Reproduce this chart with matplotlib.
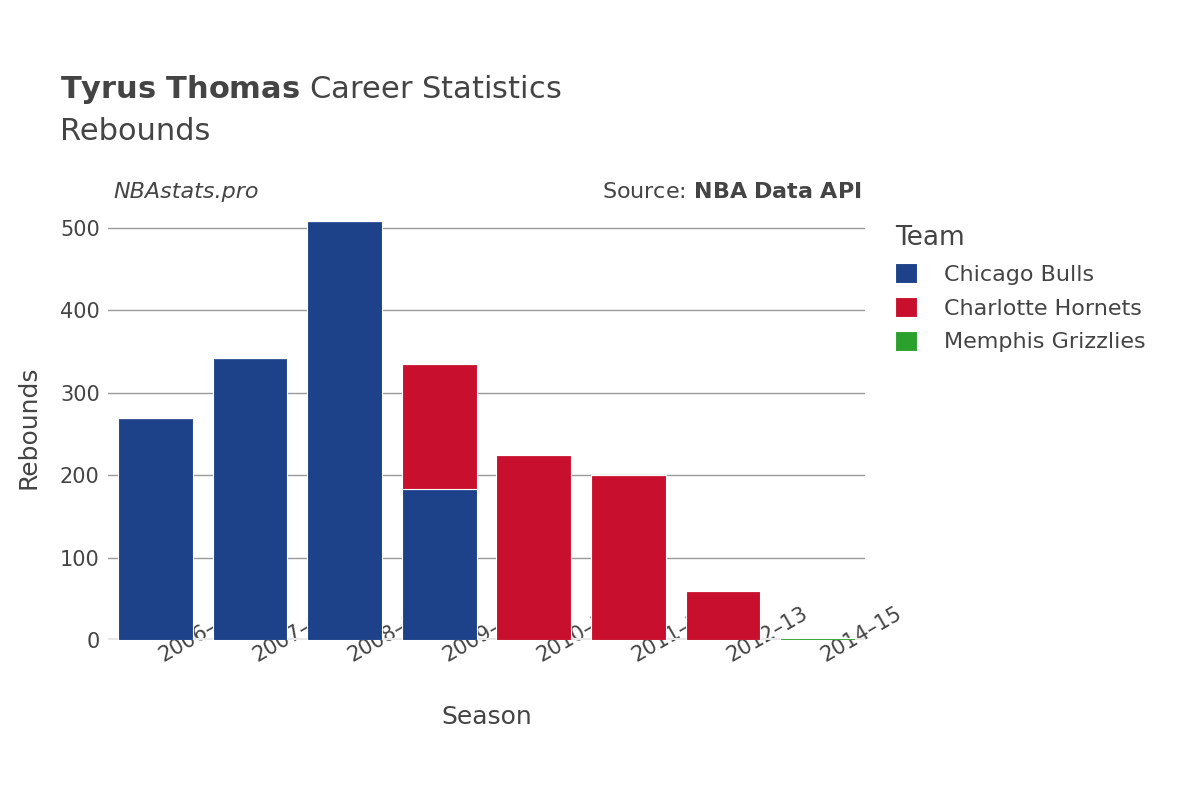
import matplotlib
matplotlib.use("Agg")
import matplotlib.pyplot as plt
import numpy as np

seasons = ["2006–07", "2007–08", "2008–09", "2009–10", "2010–11", "2011–12", "2012–13", "2014–15"]
teams = ["Chicago Bulls", "Charlotte Hornets", "Memphis Grizzlies"]
colors = ["#1d428a", "#c8102e", "#2ca02c"]
bulls = [269, 342, 508, 183, 0, 0, 0, 0]
hornets = [0, 0, 0, 152, 224, 200, 60, 0]
grizzlies = [0, 0, 0, 0, 0, 0, 0, 2]
series = [bulls, hornets, grizzlies]

fig = plt.figure(figsize=(12, 8), dpi=100)
ax = fig.add_axes([108/1200, 160/800, (865-108)/1200, 425/800])
x = np.arange(len(seasons))
bottom = np.zeros(len(seasons))
for vals, c, name in zip(series, colors, teams):
    v = np.array(vals, float)
    ax.bar(x, v, 0.79, bottom=bottom, color=c, label=name, edgecolor="white", linewidth=0.8, zorder=3)
    bottom += v

ax.set_xlim(-0.5, len(seasons) - 0.5)
ax.set_ylim(0, 500 * 425 / 412)
ax.set_yticks([0, 100, 200, 300, 400, 500])
ax.yaxis.grid(True, color="#999999", linewidth=1, zorder=0)
ax.axhline(0, color="#e8e8e8", linewidth=3, zorder=2)
for s in ax.spines.values():
    s.set_visible(False)
ax.tick_params(length=0, labelsize=15, colors="#444444", pad=6)
ax.set_xticks(x)
ax.set_xticklabels(seasons, rotation=30, ha="left", va="top", rotation_mode="anchor")
ax.set_xlabel("Season", fontsize=18, color="#444444", labelpad=28)
ax.set_ylabel("Rebounds", fontsize=18, color="#444444", labelpad=14)

fig.text(60/1200, 1 - 89/800, r"$\bf{Tyrus\ Thomas}$ Career Statistics", fontsize=22, color="#444444", va="center")
fig.text(60/1200, 1 - 132/800, "Rebounds", fontsize=22, color="#444444", va="center")
fig.text(113/1200, 1 - 192/800, "NBAstats.pro", fontsize=16, color="#444444", style="italic", va="center")
fig.text(862/1200, 1 - 192/800, r"Source: $\bf{NBA\ Data\ API}$", fontsize=16, color="#444444", va="center", ha="right")

handles, labels = ax.get_legend_handles_labels()
leg = fig.legend(handles, labels, loc="upper left", bbox_to_anchor=(875/1200, 1 - 205/800),
                 frameon=False, fontsize=16, title="Team", title_fontsize=19,
                 handlelength=1, handleheight=1, labelspacing=0.55, handletextpad=1.2)
leg._legend_box.align = "left"
for t in leg.get_texts():
    t.set_color("#444444")
leg.get_title().set_color("#444444")

fig.savefig("out.png", dpi=100)
